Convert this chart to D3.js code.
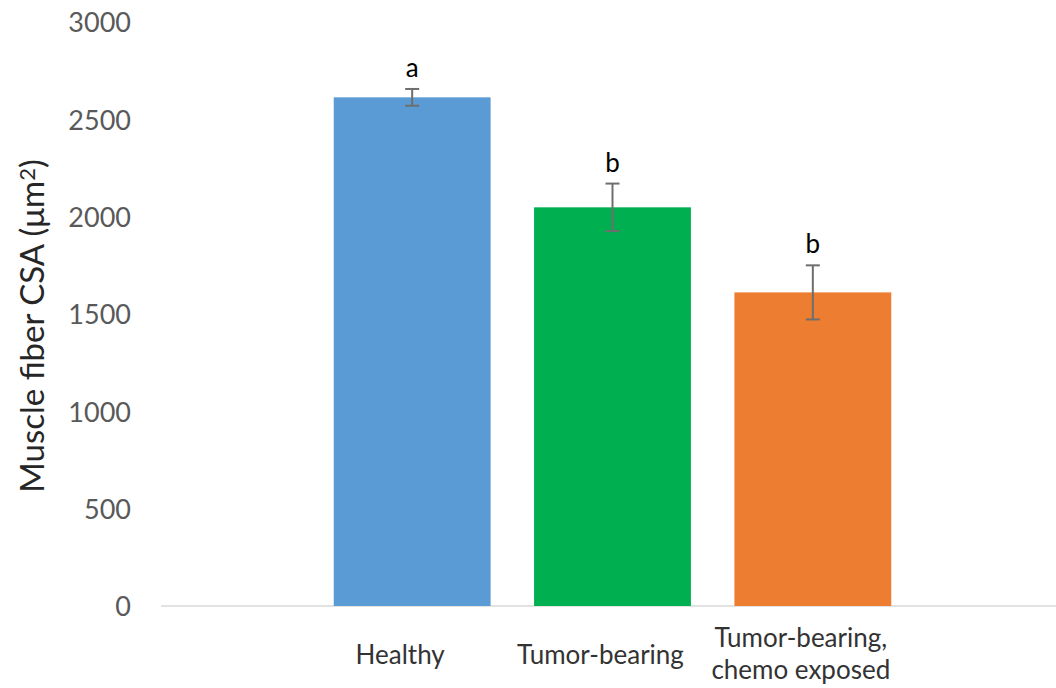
<!DOCTYPE html>
<html>
<head>
<meta charset="utf-8">
<script src="https://cdn.jsdelivr.net/npm/d3@7"></script>
<style>
  html, body { margin: 0; padding: 0; background: #fff; }
  svg { display: block; }
  text { font-family: Lato, "Open Sans", sans-serif; }
</style>
</head>
<body>
<svg id="chart" width="1056" height="688"></svg>
<script>
// Muscle fiber cross-sectional area by group (mean ± error)
const groups = ["Healthy", "Tumor-bearing", "Tumor-bearing, chemo exposed"];
const groupLines = [["Healthy"], ["Tumor-bearing"], ["Tumor-bearing,", "chemo exposed"]];
const means = [2613, 2048, 1611];
const errors = [43, 122, 139];
const letters = ["a", "b", "b"];
const colors = ["#5B9BD5", "#00B050", "#ED7D31"];
const yTicks = [0, 500, 1000, 1500, 2000, 2500, 3000];

const svg = d3.select("#chart");

const y = d3.scaleLinear().domain([0, 3000]).range([606, 22]);
const x = d3.scaleBand()
  .domain(groups)
  .range([312, 913])
  .paddingInner(0.217)
  .paddingOuter(0.1085);

// baseline (category axis line)
svg.append("line")
  .attr("x1", 161).attr("x2", 1056)
  .attr("y1", y(0)).attr("y2", y(0))
  .attr("stroke", "#D9D9D9")
  .attr("stroke-width", 1.5);

// value axis labels only (no line, no ticks)
const yAxis = d3.axisLeft(y).tickValues(yTicks).tickSize(0).tickPadding(0).tickFormat(d3.format("d"));
const yg = svg.append("g").attr("transform", "translate(131,0)").call(yAxis);
yg.select(".domain").remove();
yg.selectAll("text")
  .attr("fill", "#595959")
  .style("font-family", "Lato, 'Open Sans', sans-serif")
  .style("font-size", "27px")
  .attr("dy", "0.36em");

// bars
svg.selectAll("rect.bar")
  .data(groups)
  .join("rect")
  .attr("class", "bar")
  .attr("x", d => x(d))
  .attr("width", x.bandwidth())
  .attr("y", (d, i) => y(means[i]))
  .attr("height", (d, i) => y(0) - y(means[i]))
  .attr("fill", (d, i) => colors[i]);

// error bars
const capHalf = 7;
const eg = svg.append("g").attr("stroke", "#6E6E6E").attr("stroke-width", 2);
groups.forEach((g, i) => {
  const cx = x(g) + x.bandwidth() / 2;
  const top = y(means[i] + errors[i]);
  const bot = y(means[i] - errors[i]);
  eg.append("line").attr("x1", cx).attr("x2", cx).attr("y1", top).attr("y2", bot);
  eg.append("line").attr("x1", cx - capHalf).attr("x2", cx + capHalf).attr("y1", top).attr("y2", top);
  eg.append("line").attr("x1", cx - capHalf).attr("x2", cx + capHalf).attr("y1", bot).attr("y2", bot);
});

// significance letters
svg.selectAll("text.sig")
  .data(groups)
  .join("text")
  .attr("class", "sig")
  .attr("x", d => x(d) + x.bandwidth() / 2)
  .attr("y", (d, i) => y(means[i] + errors[i]) - 12)
  .attr("text-anchor", "middle")
  .attr("fill", "#000")
  .style("font-size", "26px")
  .text((d, i) => letters[i]);

// category labels
groups.forEach((g, i) => {
  const cx = x(g) + x.bandwidth() / 2 - 12;
  const lines = groupLines[i];
  const t = svg.append("text")
    .attr("text-anchor", "middle")
    .attr("fill", "#333333")
    .style("font-size", "26px");
  const firstBaseline = lines.length === 1 ? 664 : 647;
  lines.forEach((ln, j) => {
    t.append("tspan").attr("x", cx).attr("y", firstBaseline + j * 31.5).text(ln);
  });
});

// value axis title
const title = svg.append("text")
  .attr("transform", "translate(44,326) rotate(-90)")
  .attr("text-anchor", "middle")
  .attr("fill", "#262626")
  .style("font-size", "33px");
title.append("tspan").text("Muscle fiber CSA (μm");
title.append("tspan").attr("dy", "-0.4em").style("font-size", "22px").text("2");
title.append("tspan").attr("dy", "0.26em").text(")");
</script>
</body>
</html>
